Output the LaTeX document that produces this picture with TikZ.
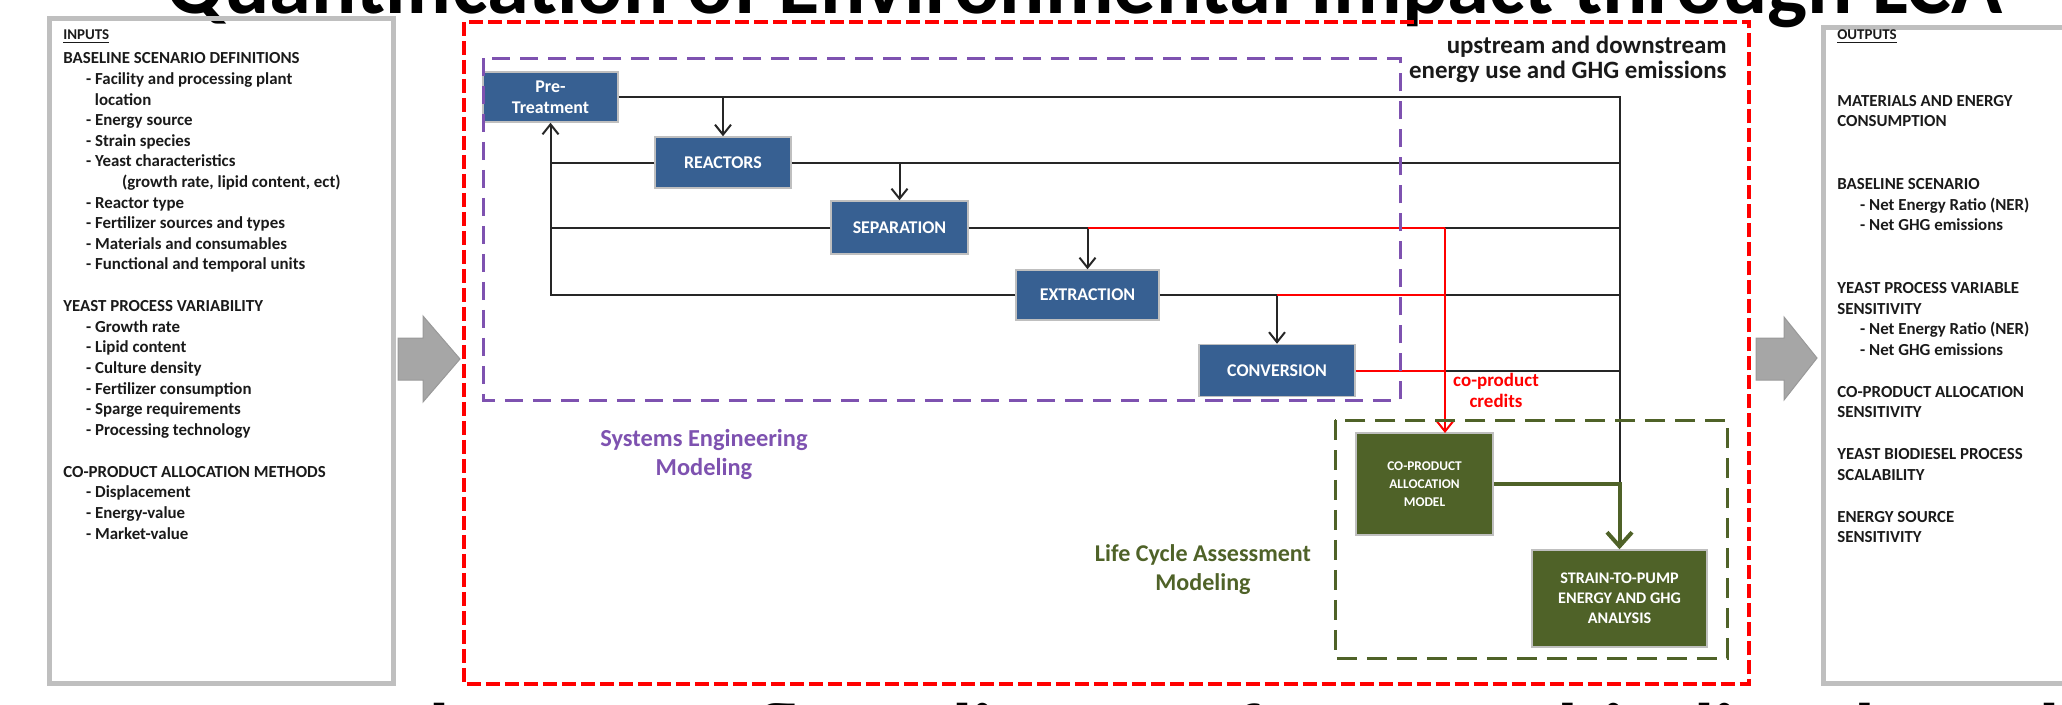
\documentclass[tikz,border=0pt]{standalone}
\usepackage{fontspec}
\setmainfont{Carlito}
\usetikzlibrary{arrows.meta}
\definecolor{boxblue}{HTML}{376092}
\definecolor{olive}{HTML}{4F6228}
\definecolor{purp}{HTML}{7E52B0}
\definecolor{framegray}{HTML}{BFBFBF}
\definecolor{arrgray}{HTML}{A6A6A6}
\definecolor{txtdark}{HTML}{1A1A1A}
\newcommand\fsz[2]{\fontsize{#1}{#2}\selectfont}
\newcommand\topstrut{\rule{0pt}{10pt}}
\tikzset{
  procbox/.style={draw=framegray, line width=0.03cm, fill=boxblue, text=white,
    font=\bfseries\fsz{10.2}{12}, align=center, inner sep=0pt},
  olivebox/.style={draw=framegray, line width=0.03cm, fill=olive, text=white,
    font=\bfseries\fsz{7.6}{10.4}, align=center, inner sep=0pt},
  flow/.style={line width=0.04cm, draw=black!85},
  flowarrow/.style={flow, -{Straight Barb[length=0.2cm,width=0.32cm,line width=0.04cm]}},
  redflow/.style={line width=0.04cm, draw=red},
  greenflow/.style={line width=0.08cm, draw=olive},
  sidetext/.style={font=\bfseries\fsz{9.6}{11.73}, text=txtdark, align=left, inner sep=0pt},
  sideframe/.style={draw=framegray, line width=0.1cm},
  blockarrow/.style={fill=arrgray, draw=gray!80, line width=0.02cm},
}
\begin{document}
\begin{tikzpicture}[x=0.02cm, y=-0.02cm]
\useasboundingbox (0,0) rectangle (2062,704);
\begin{scope}
\clip (0,0) rectangle (2062,704);
% title and caption (cut by the picture edges)
\node[anchor=base, inner sep=0pt, font=\bfseries\fsz{48.1}{50}] (title) at (1084.5,13)
  {Quantification of Environmental Impact through LCA};
\node[anchor=base west, inner sep=0pt, font=\bfseries\fsz{48.1}{50}] (caption) at (118,762)
  {Proposed process flow diagram for yeast biodiesel production};
% side frames
\draw[sideframe] (49,18) rectangle (393,683);
\draw[sideframe] (1823,27) rectangle (2090,683);
% block arrows
\fill[blockarrow] (398,338) -- (423,338) -- (423,316) -- (460,359) -- (423,402) -- (423,380) -- (398,380) -- cycle;
\fill[blockarrow] (1756,338) -- (1784,338) -- (1784,317) -- (1817,358) -- (1784,400) -- (1784,380) -- (1756,380) -- cycle;
\end{scope}

% inputs text
\node[sidetext, anchor=north west] (inputs) at (63,21.4) {%
\topstrut{\fsz{8.5}{11}\underline{INPUTS}}\\[2.2pt]
BASELINE SCENARIO DEFINITIONS\\
\hspace*{13pt}- Facility and processing plant\\
\hspace*{18pt}location\\
\hspace*{13pt}- Energy source\\
\hspace*{13pt}- Strain species\\
\hspace*{13pt}- Yeast characteristics\\
\hspace*{33.4pt}(growth rate, lipid content, ect)\\
\hspace*{13pt}- Reactor type\\
\hspace*{13pt}- Fertilizer sources and types\\
\hspace*{13pt}- Materials and consumables\\
\hspace*{13pt}- Functional and temporal units\\[12.1pt]
YEAST PROCESS VARIABILITY\\
\hspace*{13pt}- Growth rate\\
\hspace*{13pt}- Lipid content\\
\hspace*{13pt}- Culture density\\
\hspace*{13pt}- Fertilizer consumption\\
\hspace*{13pt}- Sparge requirements\\
\hspace*{13pt}- Processing technology\\[12.1pt]
CO-PRODUCT ALLOCATION METHODS\\
\hspace*{13pt}- Displacement\\
\hspace*{13pt}- Energy-value\\
\hspace*{13pt}- Market-value};

% outputs text
\node[sidetext, anchor=north west] (outputs) at (1837,21.4) {%
\topstrut{\fsz{8.5}{11}\underline{OUTPUTS}}\\[26.3pt]
MATERIALS AND ENERGY\\
CONSUMPTION\\[24pt]
BASELINE SCENARIO\\
\hspace*{13pt}- Net Energy Ratio (NER)\\
\hspace*{13pt}- Net GHG emissions\\[24pt]
YEAST PROCESS VARIABLE\\
SENSITIVITY\\
\hspace*{13pt}- Net Energy Ratio (NER)\\
\hspace*{13pt}- Net GHG emissions\\[12.1pt]
CO-PRODUCT ALLOCATION\\
SENSITIVITY\\[12.1pt]
YEAST BIODIESEL PROCESS\\
SCALABILITY\\[12.1pt]
ENERGY SOURCE\\
SENSITIVITY};

% process boxes
\node[procbox, minimum width=2.70cm, minimum height=1.00cm] (pre)  at (550.5,97)   {Pre-\\Treatment};
\node[procbox, minimum width=2.72cm, minimum height=1.02cm] (reac) at (723,162.5)  {REACTORS};
\node[procbox, minimum width=2.74cm, minimum height=1.06cm] (sep)  at (899.5,227.5){SEPARATION};
\node[procbox, minimum width=2.86cm, minimum height=1.00cm] (ext)  at (1087.5,295) {EXTRACTION};
\node[procbox, minimum width=3.12cm, minimum height=1.04cm] (conv) at (1277,370.5) {CONVERSION};
\node[olivebox, minimum width=2.74cm, minimum height=2.04cm] (cop) at (1424.5,484) {CO-PRODUCT\\ALLOCATION\\MODEL};
\node[olivebox, font=\bfseries\fsz{9.2}{11.5}, minimum width=3.50cm, minimum height=1.94cm] (stp) at (1619.5,598.5) {STRAIN-TO-PUMP\\ENERGY AND GHG\\ANALYSIS};

% junction coordinates
\coordinate (busA) at (1619.5,97);
\coordinate (busB) at (1619.5,162.5);
\coordinate (busC) at (1619.5,227.5);
\coordinate (busD) at (1619.5,295);
\coordinate (busE) at (1619.5,370.5);
\coordinate (busF) at (1619.5,484);
\coordinate (fbB) at (550.5,162.5);
\coordinate (fbC) at (550.5,227.5);
\coordinate (fbD) at (550.5,295);
\coordinate (spA) at (723,97);
\coordinate (spB) at (899.5,162.5);
\coordinate (spC) at (1087.5,227.5);
\coordinate (spD) at (1277,295);
\coordinate (rC) at (1445,227.5);
\coordinate (rD) at (1445,295);
\coordinate (rE) at (1445,370.5);
\coordinate (rEnd) at (1445,433);

% black flows to the bus
\draw[flow] (pre.east) -- (busA) -- (busF);
\draw[flow] (reac.east) -- (busB);
\draw[flow] (sep.east) -- (busC);
\draw[flow] (ext.east) -- (busD);
\draw[flow] (conv.east) -- (busE);
% downward arrows
\draw[flowarrow] (spA) -- (reac.north);
\draw[flowarrow] (spB) -- (sep.north);
\draw[flowarrow] (spC) -- (ext.north);
\draw[flowarrow] (spD) -- (conv.north);
% feedback
\draw[flow] (reac.west) -- (fbB);
\draw[flow] (sep.west) -- (fbC);
\draw[flowarrow] (ext.west) -- (fbD) -- (pre.south);
% co-product credits (red)
\draw[redflow] (spC) -- (rC);
\draw[redflow] (spD) -- (rD);
\draw[redflow] (conv.east) -- (rE);
\draw[redflow, -{Straight Barb[length=0.2cm,width=0.32cm,line width=0.04cm]}] (rC) -- (rEnd);
% green flow to strain-to-pump
\draw[greenflow, -{Straight Barb[length=0.28cm,width=0.5cm,line width=0.08cm]}] (cop.east) -- (busF) -- (stp.north);

% dashed frames
\draw[red, line width=0.08cm, dash pattern=on 0.28cm off 0.1cm] (464,22) rectangle (1749,684);
\draw[purp, line width=0.06cm, dash pattern=on 0.36cm off 0.2cm] (483,58) rectangle (1400,400);
\draw[olive, line width=0.06cm, dash pattern=on 0.4cm off 0.2cm] (1335,420) rectangle (1727,658);

% labels
\node[anchor=base east, align=right, inner sep=0pt, font=\bfseries\fsz{14.2}{14.2}, text=txtdark] (updown) at (1727,78)
  {upstream and downstream\\energy use and GHG emissions};
\node[anchor=base, align=center, inner sep=0pt, font=\bfseries\fsz{10.8}{11.4}, text=red] (credits) at (1496,407)
  {co-product\\credits};
\node[anchor=base, align=center, inner sep=0pt, font=\bfseries\fsz{13.9}{16.4}, text=purp] (sysl) at (704,475)
  {Systems Engineering\\Modeling};
\node[anchor=base, align=center, inner sep=0pt, font=\bfseries\fsz{13.7}{16.4}, text=olive] (lcal) at (1203,590)
  {Life Cycle Assessment\\Modeling};
\end{tikzpicture}
\end{document}
